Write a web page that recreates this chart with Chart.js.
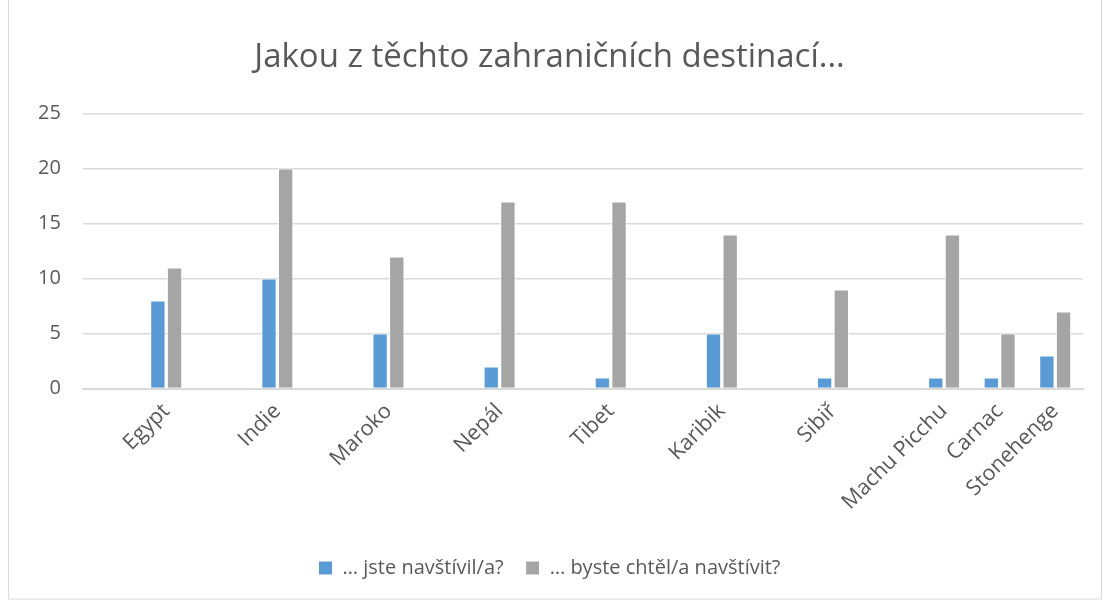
<!DOCTYPE html>
<html>
<head>
<meta charset="utf-8">
<script src="https://cdn.jsdelivr.net/npm/chart.js@4/dist/chart.umd.min.js"></script>
<style>
  html, body { margin: 0; padding: 0; background: #fff; }
  #wrap { position: absolute; left: 0; top: 0; width: 1105px; height: 600px; }
</style>
</head>
<body>
<div id="wrap"><canvas id="myChart"></canvas></div>
<script>
// empty slots between destinations, as in the source sheet
const labels = ['', 'Egypt', '', 'Indie', '', 'Maroko', '', 'Nepál', '', 'Tibet', '', 'Karibik', '', 'Sibiř', '', 'Machu Picchu', 'Carnac', 'Stonehenge'];
const visited = [null, 8, null, 10, null, 5, null, 2, null, 1, null, 5, null, 1, null, 1, 1, 3];
const wanted = [null, 11, null, 20, null, 12, null, 17, null, 17, null, 14, null, 9, null, 14, 5, 7];
const seriesNames = ['… jste navštívil/a?', '… byste chtěl/a navštívit?'];
const yTicks = [0, 5, 10, 15, 20, 25];

const frame = {
  id: 'frame',
  beforeDraw(chart) {
    const c = chart.ctx;
    c.save();
    c.fillStyle = '#fff';
    c.fillRect(0, 0, chart.width, chart.height);
    c.strokeStyle = '#D9D9D9';
    c.lineWidth = 1;
    c.strokeRect(8.5, -1.5, chart.width - 12, chart.height + 0.5);
    c.restore();
  }
};

Chart.defaults.font.family = 'Open Sans';
Chart.defaults.color = '#595959';

const ctx = document.getElementById('myChart').getContext('2d');
new Chart(ctx, {
  type: 'bar',
  data: {
    labels: labels,
    datasets: [
      {
        label: seriesNames[0],
        data: visited,
        backgroundColor: '#5B9BD5',
        borderColor: '#fff',
        borderWidth: 1,
        categoryPercentage: 0.6,
        barPercentage: 0.92
      },
      {
        label: seriesNames[1],
        data: wanted,
        backgroundColor: '#A5A5A5',
        borderColor: '#fff',
        borderWidth: 1,
        categoryPercentage: 0.6,
        barPercentage: 0.92
      }
    ]
  },
  options: {
    responsive: true,
    maintainAspectRatio: false,
    animation: false,
    layout: { padding: { left: 16, right: 22, top: 16, bottom: 12 } },
    plugins: {
      title: {
        display: true,
        text: 'Jakou z těchto zahraničních destinací...',
        font: { size: 33, weight: 'normal' },
        color: '#595959',
        padding: { top: 22, bottom: 36 }
      },
      legend: {
        position: 'bottom',
        labels: {
          boxWidth: 14,
          boxHeight: 14,
          padding: 22,
          font: { size: 20 },
          color: '#595959'
        }
      },
      tooltip: { enabled: false }
    },
    scales: {
      y: {
        min: 0,
        max: 25,
        afterBuildTicks: (axis) => { axis.ticks = yTicks.map(v => ({ value: v })); },
        grid: { color: '#D9D9D9', lineWidth: 1.5, drawTicks: false },
        border: { display: false },
        ticks: { font: { size: 20 }, color: '#595959', padding: 22 }
      },
      x: {
        grid: { display: false, drawTicks: false },
        border: { display: true, color: '#D9D9D9', width: 2 },
        afterFit: (axis) => { axis.height += 11; },
        ticks: {
          autoSkip: false,
          maxRotation: 45,
          minRotation: 45,
          font: { size: 21.5 },
          color: '#595959',
          padding: 10
        }
      }
    }
  },
  plugins: [frame]
});
</script>
</body>
</html>
